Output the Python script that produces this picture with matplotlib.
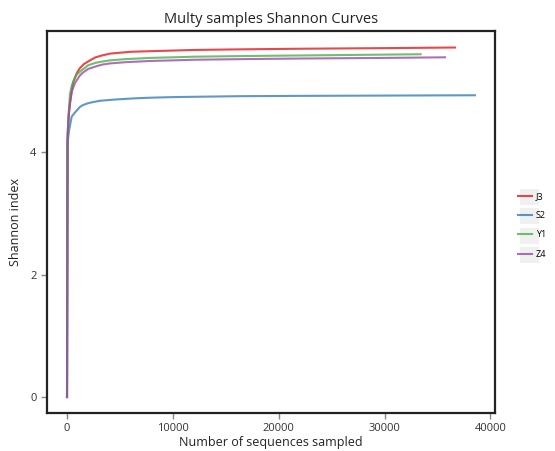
import matplotlib
matplotlib.use("Agg")
import matplotlib.pyplot as plt
from matplotlib.patches import Rectangle

plt.rcParams['font.family'] = ['Open Sans', 'DejaVu Sans']

# rarefaction depths and shannon values
j3_x = [0, 50, 100, 180, 280, 470, 600, 920, 1200, 1600, 2170, 2700, 3300, 4060,
        5000, 6000, 7840, 10000, 12000, 16340, 22000, 30000, 36640]
j3_y = [0, 4.2, 4.45, 4.65, 4.80, 5.05, 5.15, 5.29, 5.37, 5.44, 5.50, 5.55, 5.58, 5.61,
        5.625, 5.64, 5.65, 5.66, 5.67, 5.68, 5.69, 5.70, 5.71]

s2_x = [0, 50, 100, 190, 440, 755, 1230, 1500, 1980, 2500, 3120, 4500, 6420, 7840,
        10000, 12000, 16340, 22000, 30000, 38530]
s2_y = [0, 4.1, 4.22, 4.35, 4.58, 4.65, 4.74, 4.77, 4.80, 4.82, 4.84, 4.86, 4.88, 4.89,
        4.90, 4.905, 4.915, 4.92, 4.925, 4.93]

y1_x = [0, 50, 100, 180, 280, 470, 755, 920, 1400, 2000, 2700, 3300, 4060, 5500, 7840,
        10000, 12000, 16340, 22000, 33400]
y1_y = [0, 4.2, 4.45, 4.70, 4.95, 5.10, 5.22, 5.27, 5.34, 5.42, 5.46, 5.48, 5.50, 5.52, 5.54,
        5.55, 5.56, 5.57, 5.58, 5.60]

z4_x = [0, 50, 100, 180, 280, 470, 755, 1200, 1500, 2000, 2700, 3300, 4060, 5500, 7840,
        10000, 12000, 16340, 22000, 30000, 35700]
z4_y = [0, 4.2, 4.40, 4.62, 4.80, 5.00, 5.13, 5.25, 5.30, 5.36, 5.40, 5.43, 5.45, 5.47, 5.49,
        5.50, 5.51, 5.52, 5.53, 5.54, 5.55]

names = ['J3', 'S2', 'Y1', 'Z4']
colors = ['#e41a1c', '#377eb8', '#4daf4a', '#984ea3']

fig = plt.figure(figsize=(5.55, 4.51), dpi=100)
ax = fig.add_axes([0.0847, 0.0843, 0.807, 0.847])

series = [(j3_x, j3_y), (s2_x, s2_y), (y1_x, y1_y), (z4_x, z4_y)]
for (xs, ys), n, c in zip(series, names, colors):
    ax.plot(xs, ys, color=c, lw=1.5, alpha=0.8, label=n)

ax.set_xlim(-1890, 40415)
ax.set_ylim(-0.26, 5.98)
ax.set_xticks([0, 10000, 20000, 30000, 40000])
ax.set_yticks([0, 2, 4])
ax.tick_params(direction='out', length=4, width=1, color='#888888',
               labelcolor='#333333', labelsize=8)
for s in ax.spines.values():
    s.set_linewidth(1.6)
    s.set_color('#222222')

ax.set_title('Multy samples Shannon Curves', fontsize=10.5, color='#222222', pad=6)
ax.set_xlabel('Number of sequences sampled', fontsize=9, color='#222222', labelpad=1)
ax.set_ylabel('Shannon index', fontsize=9, color='#222222', labelpad=6)

leg = fig.legend(loc='upper left', bbox_to_anchor=(0.925, 0.585), frameon=False,
                 fontsize=6.5, handlelength=1.6, handletextpad=0.4,
                 labelspacing=1.15, borderpad=0)

# grey key boxes behind legend handles
for i in range(4):
    yc = 451 - (197 + i * 19.3)
    fig.add_artist(Rectangle(((521 - 1.5) / 555, (yc - 8) / 451), 19 / 555, 16 / 451,
                             transform=fig.transFigure, facecolor='#f0f0f0',
                             edgecolor='none', zorder=0))

fig.savefig('out.png', dpi=100)
